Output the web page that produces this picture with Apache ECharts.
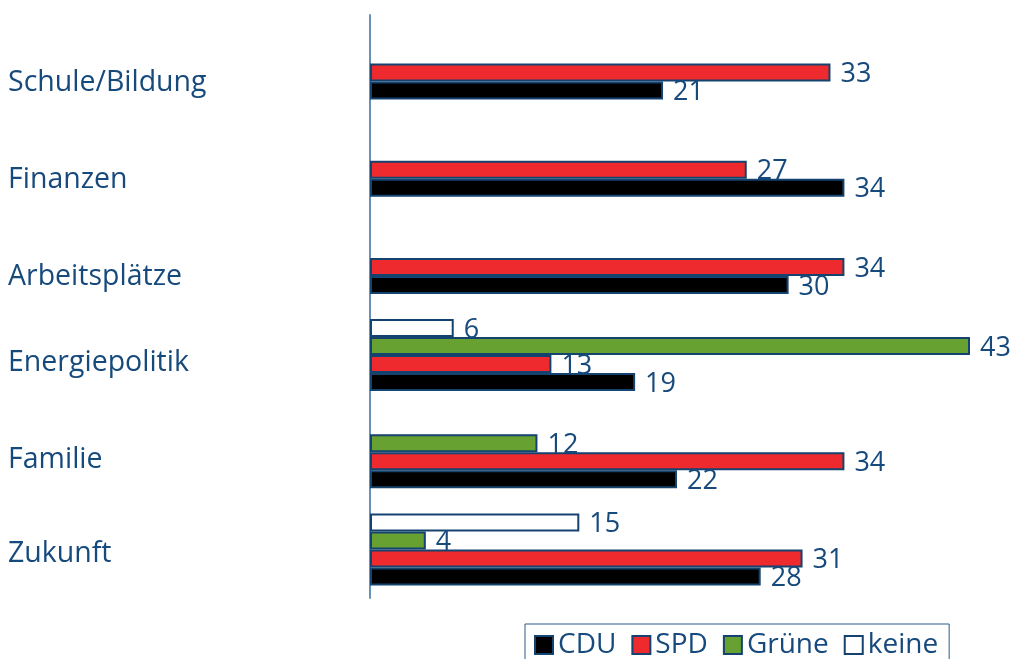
<!DOCTYPE html>
<html><head><meta charset="utf-8">
<script src="https://cdn.jsdelivr.net/npm/echarts@6/dist/echarts.min.js"></script>
<style>html,body{margin:0;padding:0;background:#fff}#c{width:1016px;height:659px}</style>
</head><body><div id="c"></div>
<script>
const categories = ['Schule/Bildung','Finanzen','Arbeitsplätze','Energiepolitik','Familie','Zukunft'];
const labelShift = [39, 38, 38, 16, 16, 8];
const cdu   = [21, 34, 30, 19, 22, 28];
const spd   = [33, 27, 34, 13, 34, 31];
const gruene= [null, null, null, 43, 12, 4];
const keine = [null, null, null, 6, null, 15];
const legendOrder = ['CDU','SPD','Grüne','keine'];

const navy = '#174a7c';
const border = '#14436f';
const font = 'Open Sans';

function mk(name, data, color){
  return {
    name, type:'bar', data, barWidth:18, barGap:'0%',
    itemStyle:{color, borderColor:border, borderWidth:2},
    label:{show:true, position:'right', distance:10, offset:[0,2], color:navy, fontSize:27, fontFamily:font},
    emphasis:{disabled:true}
  };
}
const rich = {};
labelShift.forEach((s,i)=>{ rich['r'+i] = {padding:[s,0,0,0], fontSize:28.5, color:navy, fontFamily:font}; });
const chart = echarts.init(document.getElementById('c'));
chart.setOption({
  animation:false,
  grid:{left:370, top:15, bottom:61, width:600, containLabel:false, outerBoundsMode:'none'},
  xAxis:{type:'value', min:0, max:43, show:false},
  yAxis:{type:'category', inverse:true,
    data: categories,
    axisLine:{show:true, lineStyle:{color:'#6a8fb8', width:2}},
    axisTick:{show:false},
    axisLabel:{align:'left', margin:362, fontSize:28.5, color:navy, fontFamily:font,
      formatter:(v)=>{ const i = categories.indexOf(v); return '{r'+i+'|'+v+'}'; },
      rich}
  },
  legend:{data:legendOrder, left:525, top:624, orient:'horizontal',
    itemWidth:18, itemHeight:18, itemGap:15, icon:'rect',
    padding:[7,11,7,9], borderColor:'#2a5a8a', borderWidth:1,
    textStyle:{fontSize:28, color:navy, fontFamily:font}
  },
  series:[
    mk('keine', keine, '#ffffff'),
    mk('Grüne', gruene, '#66a131'),
    mk('SPD', spd, '#ee2a2e'),
    mk('CDU', cdu, '#000000')
  ]
});
</script></body></html>
